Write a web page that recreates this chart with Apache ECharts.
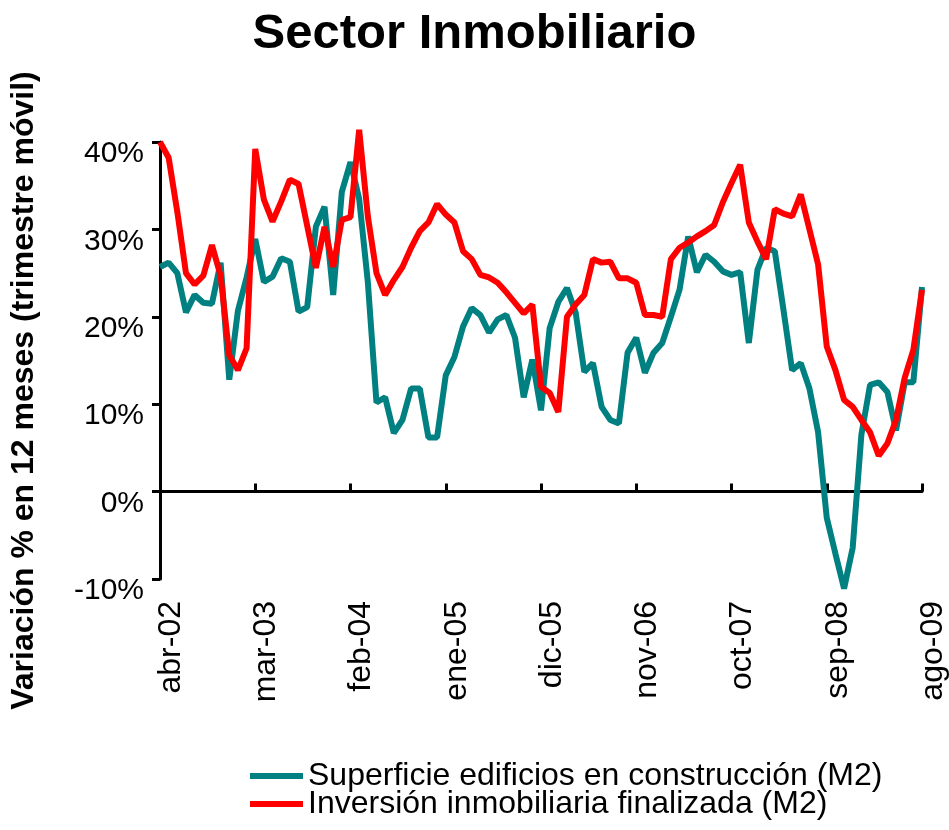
<!DOCTYPE html>
<html>
<head>
<meta charset="utf-8">
<script src="https://cdn.jsdelivr.net/npm/echarts@6/dist/echarts.min.js"></script>
<style>
  html, body { margin: 0; padding: 0; background: #fff; }
  #chart { width: 949px; height: 830px; }
</style>
</head>
<body>
<div id="chart"></div>
<script>
// meses abr-02 .. ago-09
const monthNames = ['ene', 'feb', 'mar', 'abr', 'may', 'jun', 'jul', 'ago', 'sep', 'oct', 'nov', 'dic'];
const firstYear = 2002, firstMonth = 3; // abril
const monthCount = 89;

// Superficie edificios en construcción (M2), variación %
const superficie = [
  25.7, 26.2, 25.0, 20.5, 22.5, 21.6, 21.5, 26.2, 12.8, 20.7,
  24.5, 28.9, 24.0, 24.6, 26.7, 26.3, 20.6, 21.1, 30.3, 32.6,
  22.5, 34.3, 37.7, 33.5, 24.0, 10.2, 10.8, 6.7, 8.2, 11.8,
  11.8, 6.2, 6.2, 13.3, 15.4, 18.9, 21.0, 20.2, 18.2, 19.7,
  20.2, 17.6, 10.8, 15.1, 9.3, 18.7, 21.7, 23.3, 20.5, 13.7,
  14.7, 9.7, 8.2, 7.8, 15.9, 17.6, 13.6, 15.9, 17.0, 20.0,
  23.1, 29.2, 25.1, 27.1, 26.3, 25.2, 24.8, 25.1, 17.0, 25.4,
  27.9, 27.5, 20.8, 13.9, 14.7, 11.8, 6.8, -3.0, -7.1, -11.1,
  -6.4, 6.5, 12.2, 12.5, 11.4, 7.0, 12.5, 12.5, 23.4
];

// Inversión inmobiliaria finalizada (M2), variación %
const inversion = [
  40.0, 38.2, 32.0, 25.0, 23.7, 24.7, 28.2, 24.7, 15.6, 13.9,
  16.4, 39.2, 33.4, 30.9, 33.2, 35.7, 35.2, 30.4, 25.6, 30.3,
  25.7, 31.1, 31.4, 41.4, 31.5, 25.0, 22.5, 24.2, 25.7, 27.9,
  29.8, 30.8, 32.9, 31.7, 30.8, 27.5, 26.6, 24.8, 24.5, 23.9,
  22.8, 21.6, 20.4, 21.4, 12.0, 11.3, 9.1, 20.0, 21.4, 22.5,
  26.6, 26.2, 26.3, 24.4, 24.4, 23.9, 20.2, 20.2, 20.0, 26.6,
  27.9, 28.5, 29.2, 29.8, 30.5, 33.1, 35.3, 37.4, 30.8, 28.6,
  26.6, 32.3, 31.8, 31.5, 34.0, 30.0, 26.0, 16.6, 13.9, 10.5,
  9.7, 8.2, 6.8, 4.1, 5.5, 8.2, 13.0, 16.2, 23.1
];

const categories = [];
for (let i = 0; i < monthCount; i++) {
  const m = (firstMonth + i) % 12;
  const y = firstYear + Math.floor((firstMonth + i) / 12);
  categories.push(monthNames[m] + '-' + String(y).slice(2));
}

const chart = echarts.init(document.getElementById('chart'));
const font = 'Liberation Sans, Arial, sans-serif';

chart.setOption({
  animation: false,
  title: {
    text: 'Sector Inmobiliario',
    left: 'center',
    top: 5,
    textStyle: { fontFamily: font, fontSize: 49, fontWeight: 'bold', color: '#000' }
  },
  legend: {
    orient: 'vertical',
    left: 245,
    top: 755,
    icon: 'rect',
    itemWidth: 53,
    itemHeight: 6,
    itemGap: -4,
    textStyle: { fontFamily: font, fontSize: 32, color: '#000', lineHeight: 28 },
    data: ['Superficie edificios en construcción (M2)', 'Inversión inmobiliaria finalizada (M2)']
  },
  grid: { left: 159, right: 27, top: 142, bottom: 251 },
  xAxis: [
    {
      // eje en el cero, con marcas hacia arriba
      type: 'category',
      data: categories,
      boundaryGap: false,
      position: 'bottom',
      axisLine: { onZero: true, lineStyle: { color: '#000', width: 3 } },
      axisTick: { show: true, inside: true, interval: 10, length: 8, lineStyle: { color: '#000', width: 3 } },
      axisLabel: { show: false },
      splitLine: { show: false }
    },
    {
      // etiquetas abajo del gráfico
      type: 'category',
      data: categories,
      boundaryGap: false,
      position: 'bottom',
      axisLine: { show: false, onZero: false },
      axisTick: { show: false },
      axisLabel: {
        interval: 10,
        rotate: 90,
        margin: 22,
        verticalAlign: 'top',
        lineHeight: 22,
        fontFamily: font,
        fontSize: 32,
        color: '#000'
      },
      splitLine: { show: false }
    }
  ],
  yAxis: {
    type: 'value',
    min: -10,
    max: 40,
    interval: 10,
    name: 'Variación % en 12 meses (trimestre móvil)',
    nameLocation: 'middle',
    nameGap: 120,
    nameRotate: 90,
    nameTextStyle: { fontFamily: font, fontSize: 32, fontWeight: 'bold', color: '#000', padding: [0, 60, 0, 0] },
    axisLine: { show: true, lineStyle: { color: '#000', width: 3 } },
    axisTick: { show: true, length: 8, lineStyle: { color: '#000', width: 3 } },
    axisLabel: {
      formatter: '{value}%',
      margin: 16,
      verticalAlign: 'top',
      lineHeight: 24,
      fontFamily: font,
      fontSize: 30,
      color: '#000'
    },
    splitLine: { show: false }
  },
  series: [
    {
      name: 'Superficie edificios en construcción (M2)',
      type: 'line',
      data: superficie,
      symbol: 'none',
      clip: false,
      lineStyle: { color: '#008080', width: 6 },
      itemStyle: { color: '#008080' }
    },
    {
      name: 'Inversión inmobiliaria finalizada (M2)',
      type: 'line',
      data: inversion,
      symbol: 'none',
      clip: false,
      lineStyle: { color: '#ff0000', width: 6 },
      itemStyle: { color: '#ff0000' }
    }
  ]
});

window.addEventListener('resize', () => chart.resize());
</script>
</body>
</html>
